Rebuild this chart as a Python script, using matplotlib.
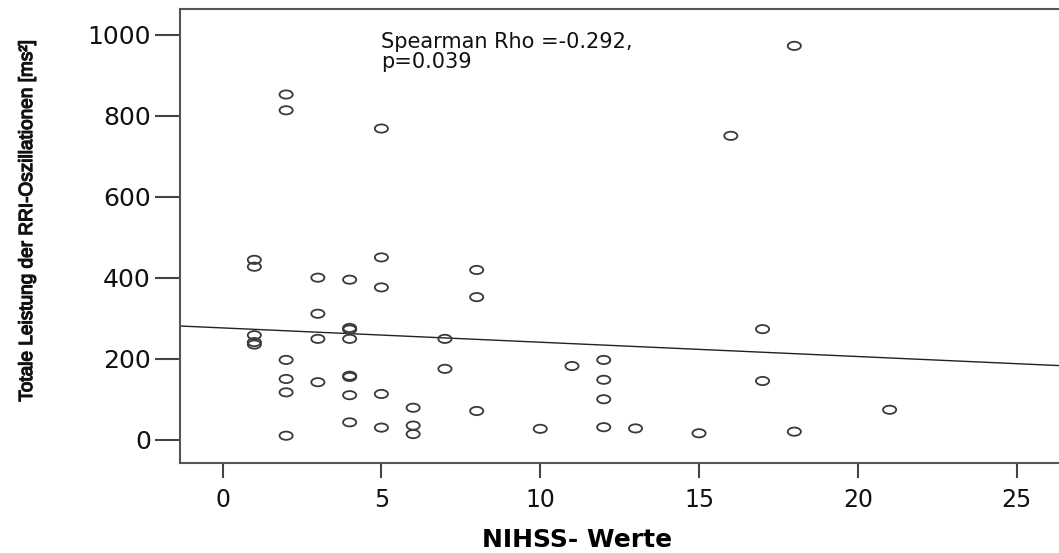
import numpy as np
import matplotlib
matplotlib.use("Agg")
import matplotlib.pyplot as plt
import matplotlib.patheffects as pe
from matplotlib.path import Path
from matplotlib.transforms import Affine2D

# NIHSS scores and total power of RRI oscillations
nihss = [1, 1, 1, 1, 1,
         2, 2, 2, 2, 2, 2,
         3, 3, 3, 3,
         4, 4, 4, 4, 4, 4, 4, 4,
         5, 5, 5, 5, 5,
         6, 6, 6,
         7, 7,
         8, 8, 8,
         10, 11,
         12, 12, 12, 12,
         13, 15, 16,
         17, 17,
         18, 18, 21]
power = [444, 427, 258, 241, 235,
         852, 813, 197, 150, 117, 10,
         400, 311, 249, 142,
         395, 276, 272, 249, 158, 155, 110, 43,
         768, 450, 376, 113, 30,
         79, 35, 14,
         249, 175,
         419, 352, 71,
         27, 182,
         197, 148, 100, 31,
         28, 16, 750,
         273, 145,
         972, 20, 74]

# linear fit line as drawn in the reference
fit_intercept = 276
fit_slope = -3.53

annot = "Spearman Rho =-0.292,\np=0.039"

fig = plt.figure(figsize=(10.59, 5.53), dpi=100)
ax = fig.add_axes([0.170, 0.163, 0.832, 0.820])

# slightly wide ellipse marker (the reference is stretched horizontally)
ell = Path.unit_circle().transformed(Affine2D().scale(1.6, 1.0))
ax.scatter(nihss, power, marker=ell, s=90, facecolors="none",
           edgecolors="#3a3a3a", linewidths=1.3, zorder=3)

xl = (-1.34, 26.4)
xs = np.array(xl)
ax.plot(xs, fit_intercept + fit_slope * xs, color="#222222", lw=1.0, zorder=2)

ax.set_xlim(*xl)
ax.set_ylim(-57, 1062)
ax.set_xticks([0, 5, 10, 15, 20, 25])
ax.set_yticks([0, 200, 400, 600, 800, 1000])

for s in ["top", "left", "bottom"]:
    ax.spines[s].set_color("#555555")
    ax.spines[s].set_linewidth(1.5)
ax.spines["right"].set_visible(False)

ax.tick_params(axis="x", length=11, width=1.5, color="#444444", pad=7,
               labelsize=17, labelcolor="#111111")
ax.tick_params(axis="y", length=18, width=1.5, color="#444444", pad=3,
               labelsize=18, labelcolor="#111111")
for lab in ax.get_xticklabels() + ax.get_yticklabels():
    lab.set_family("DejaVu Sans")

ax.set_xlabel("NIHSS- Werte", fontsize=18, fontweight="bold",
              family="DejaVu Sans", va="center")
ax.xaxis.set_label_coords(0.4505, -0.17)
fig.text(0.026, 0.598, "Totale Leistung der RRI-Oszillationen [ms²]",
         rotation=90, ha="center", va="center", fontsize=13.7,
         family=["Liberation Sans", "DejaVu Sans"], color="#111111",
         path_effects=[pe.withStroke(linewidth=0.9, foreground="#111111")])

ax.text(4.99, 1005, annot, fontsize=15, family="DejaVu Sans",
        va="top", ha="left", linespacing=0.95, color="#111111")

fig.savefig("out.png", dpi=100)
